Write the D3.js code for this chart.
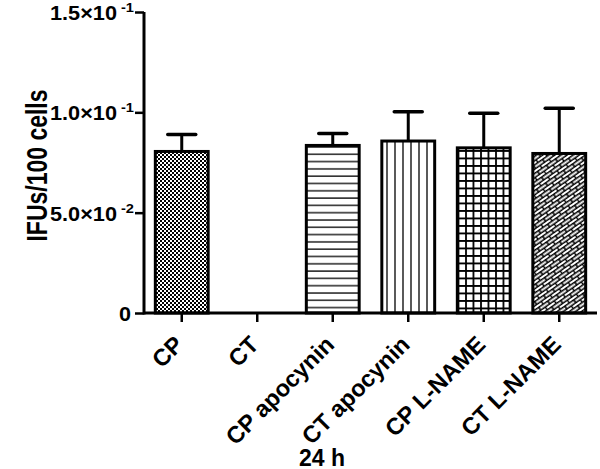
<!DOCTYPE html>
<html>
<head>
<meta charset="utf-8">
<script src="https://cdn.jsdelivr.net/npm/d3@7"></script>
<style>
  body { margin: 0; background: #fff; }
  text { font-family: "Liberation Sans", Arial, sans-serif; font-weight: bold; fill: #000; }
</style>
</head>
<body>
<script>
const groups = ["CP", "CT", "CP apocynin", "CT apocynin", "CP L-NAME", "CT L-NAME"]
const means = [0.0805, 0, 0.0835, 0.0857, 0.0823, 0.0795]
const errors = [0.0085, 0, 0.0060, 0.0146, 0.0172, 0.0225]
const patterns = ["checker", "none", "hlines", "vlines", "grid", "bricks"]
const yTicks = [0, 0.05, 0.1, 0.15]
const yTickLabels = [["0", ""], ["5.0×10", "-2"], ["1.0×10", "-1"], ["1.5×10", "-1"]]

const width = 600
const height = 469
const margin = { left: 144, right: 3, top: 12, bottom: 156 }

const svg = d3.select("body")
    .append("svg")
    .attr("width", width)
    .attr("height", height)

const defs = svg.append("defs")

// checker
const pc = defs.append("pattern").attr("id", "checker")
    .attr("patternUnits", "userSpaceOnUse").attr("width", 4).attr("height", 4)
pc.append("rect").attr("width", 4).attr("height", 4).attr("fill", "#fff")
pc.append("rect").attr("width", 2).attr("height", 2).attr("fill", "#000")
pc.append("rect").attr("x", 2).attr("y", 2).attr("width", 2).attr("height", 2).attr("fill", "#000")

// horizontal lines
const ph = defs.append("pattern").attr("id", "hlines")
    .attr("patternUnits", "userSpaceOnUse").attr("width", 7).attr("height", 7.3)
ph.append("rect").attr("width", 7).attr("height", 7.3).attr("fill", "#fff")
ph.append("line").attr("x1", 0).attr("x2", 7).attr("y1", 1).attr("y2", 1)
    .attr("stroke", "#000").attr("stroke-width", 1.3)

// vertical lines
const pv = defs.append("pattern").attr("id", "vlines")
    .attr("patternUnits", "userSpaceOnUse").attr("width", 8).attr("height", 8)
pv.append("rect").attr("width", 8).attr("height", 8).attr("fill", "#fff")
pv.append("line").attr("x1", 3).attr("x2", 3).attr("y1", 0).attr("y2", 8)
    .attr("stroke", "#000").attr("stroke-width", 1.3)

// grid
const pg = defs.append("pattern").attr("id", "grid")
    .attr("patternUnits", "userSpaceOnUse").attr("width", 7.5).attr("height", 7.5)
pg.append("rect").attr("width", 7.5).attr("height", 7.5).attr("fill", "#fff")
pg.append("path").attr("d", "M0,1H7.5M1,0V7.5")
    .attr("stroke", "#000").attr("stroke-width", 1.8)

// bricks
const pb = defs.append("pattern").attr("id", "bricks")
    .attr("patternUnits", "userSpaceOnUse").attr("width", 11).attr("height", 7)
    .attr("patternTransform", "rotate(-35)")
pb.append("rect").attr("width", 11).attr("height", 7).attr("fill", "#fff")
pb.append("path").attr("d", "M0,0.8H11M0,4.3H11M1,0.8V4.3M6.5,4.3V7.8")
    .attr("stroke", "#000").attr("stroke-width", 1.5)

const x = d3.scaleBand()
    .domain(groups)
    .range([margin.left, width - margin.right])
    .paddingInner(0.3)
    .paddingOuter(0.15)

const y = d3.scaleLinear()
    .domain([0, 0.15])
    .range([height - margin.bottom, margin.top])

const data = groups.map((g, i) => ({ g, m: means[i], e: errors[i], p: patterns[i] }))

// bars
svg.selectAll("rect.bar")
    .data(data.filter((d) => d.m > 0))
    .join("rect")
    .attr("class", "bar")
    .attr("x", (d) => x(d.g))
    .attr("width", x.bandwidth())
    .attr("y", (d) => y(d.m))
    .attr("height", (d) => y(0) - y(d.m))
    .attr("fill", (d) => `url(#${d.p})`)
    .attr("stroke", "#000")
    .attr("stroke-width", 3)

// error bars
const eb = svg.selectAll("g.err")
    .data(data.filter((d) => d.e > 0))
    .join("g")
    .attr("class", "err")
eb.append("line")
    .attr("x1", (d) => x(d.g) + x.bandwidth() / 2)
    .attr("x2", (d) => x(d.g) + x.bandwidth() / 2)
    .attr("y1", (d) => y(d.m))
    .attr("y2", (d) => y(d.m + d.e))
    .attr("stroke", "#000").attr("stroke-width", 3)
eb.append("line")
    .attr("x1", (d) => x(d.g) + x.bandwidth() / 2 - 14)
    .attr("x2", (d) => x(d.g) + x.bandwidth() / 2 + 14)
    .attr("y1", (d) => y(d.m + d.e))
    .attr("y2", (d) => y(d.m + d.e))
    .attr("stroke", "#000").attr("stroke-width", 3.5)
    .attr("stroke-linecap", "round")

// y axis
const yAxis = svg.append("g")
    .attr("transform", `translate(${margin.left},0)`)
    .call(d3.axisLeft(y).tickValues(yTicks).tickSize(9).tickFormat(""))
yAxis.select(".domain").attr("stroke-width", 3).attr("d", `M0,${y(0) + 1.5}V${y(0.15)}`)
yAxis.selectAll(".tick line").attr("stroke-width", 2.5)

// y tick labels: mantissa and exponent as separate texts
const ylab = svg.append("g")
    .selectAll("g.ylab")
    .data(yTicks)
    .join("g")
    .attr("class", "ylab")
    .attr("transform", (d) => `translate(0,${y(d)})`)
ylab.append("text")
    .attr("x", (d, i) => yTickLabels[i][1] ? margin.left - 27 : margin.left - 13)
    .attr("y", 8)
    .attr("text-anchor", "end")
    .attr("font-size", 20)
    .attr("textLength", (d, i) => yTickLabels[i][1] ? 67 : 12)
    .attr("lengthAdjust", "spacingAndGlyphs")
    .text((d, i) => yTickLabels[i][0])
ylab.filter((d, i) => yTickLabels[i][1] !== "")
    .append("text")
    .attr("x", margin.left - 23)
    .attr("y", 0)
    .attr("text-anchor", "start")
    .attr("font-size", 12)
    .attr("textLength", 13)
    .attr("lengthAdjust", "spacingAndGlyphs")
    .text((d) => yTickLabels[yTicks.indexOf(d)][1])

// x axis
const xAxis = svg.append("g")
    .attr("transform", `translate(0,${y(0)})`)
    .call(d3.axisBottom(x).tickSize(9).tickFormat(""))
xAxis.select(".domain").attr("stroke-width", 3).attr("d", `M${margin.left},0H${width - margin.right}`)
xAxis.selectAll(".tick line").attr("stroke-width", 2.5)
xAxis.selectAll(".tick").append("text")
    .attr("transform", "translate(3,33) rotate(-45)")
    .attr("text-anchor", "end")
    .style("font-size", "23.5px")
    .text((d) => d)

svg.append("text")
    .attr("x", 322)
    .attr("y", 466)
    .attr("text-anchor", "middle")
    .style("font-size", "23px")
    .text("24 h")

svg.append("text")
    .attr("transform", `translate(47,${(y(0.15) + y(0)) / 2 + 3}) rotate(-90) scale(1,1.3)`)
    .attr("text-anchor", "middle")
    .style("font-size", "23px")
    .text("IFUs/100 cells")
</script>
</body>
</html>
